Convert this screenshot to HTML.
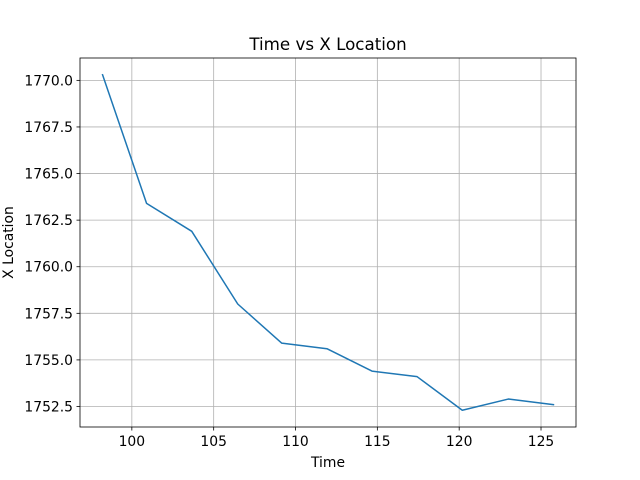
<!DOCTYPE html>
<html><head><meta charset="utf-8"><style>body{margin:0;background:#fff}svg{display:block;font-family:"DejaVu Sans","Liberation Sans",sans-serif}</style></head>
<body>
<svg id="chart" width="640" height="480"></svg>
<script>
const times = [98.21, 100.9, 103.66, 106.47, 109.16, 111.92, 114.67, 117.43, 120.19, 123.0, 125.76];
const xLocations = [1770.3, 1763.4, 1761.9, 1758.0, 1755.9, 1755.6, 1754.4, 1754.1, 1752.3, 1752.9, 1752.6];
const xTicks = [100, 105, 110, 115, 120, 125];
const yTicks = [1752.5, 1755.0, 1757.5, 1760.0, 1762.5, 1765.0, 1767.5, 1770.0];

const L=80,R=576,T=58,B=427;
const xmin=Math.min(...times),xmax=Math.max(...times),xpad=(xmax-xmin)*0.05;
const ymin=Math.min(...xLocations),ymax=Math.max(...xLocations),ypad=(ymax-ymin)*0.05;
const sx=v=>L+(v-(xmin-xpad))/((xmax+xpad)-(xmin-xpad))*(R-L);
const sy=v=>B-(v-(ymin-ypad))/((ymax+ypad)-(ymin-ypad))*(B-T);
const svg=document.getElementById('chart');const NS='http://www.w3.org/2000/svg';
function el(t,a,txt){const e=document.createElementNS(NS,t);for(const k in a)e.setAttribute(k,a[k]);if(txt!=null)e.textContent=txt;svg.appendChild(e);return e;}
xTicks.forEach(v=>{const x=sx(v);
 const g=el('line',{x1:x,x2:x,y1:T,y2:B,stroke:'#b0b0b0','stroke-width':0.8});
 
 
 el('line',{x1:x,x2:x,y1:B,y2:B+3.5,stroke:'#000','stroke-width':0.8});
 const t=el('text',{x:x,y:B+19,'font-size':13.9,'text-anchor':'middle'},String(v));
 
 
});
yTicks.forEach(v=>{const y=sy(v);
 const g=el('line',{x1:L,x2:R,y1:y,y2:y,stroke:'#b0b0b0','stroke-width':0.8});
 
 
 el('line',{x1:L-3.5,x2:L,y1:y,y2:y,stroke:'#000','stroke-width':0.8});
 const t=el('text',{x:L-7,y:y+5,'font-size':13.9,'text-anchor':'end'},v.toFixed(1));
 
 
});
const pts=times.map((t,i)=>sx(t).toFixed(2)+','+sy(xLocations[i]).toFixed(2)).join(' ');
const line=el('polyline',{points:pts,fill:'none',stroke:'#1f77b4','stroke-width':1.5,'stroke-linejoin':'round','stroke-linecap':'square'});


const fr=el('rect',{x:L,y:T,width:R-L,height:B-T,fill:'none',stroke:'#000','stroke-width':0.8});


const ti=el('text',{x:(L+R)/2,y:50,'font-size':16.7,'text-anchor':'middle'},'Time vs X Location');


const xl=el('text',{x:(L+R)/2,y:467,'font-size':13.9,'text-anchor':'middle'},'Time');


const yl=el('text',{x:0,y:0,'font-size':13.9,'text-anchor':'middle',transform:'translate(13,'+((T+B)/2)+') rotate(-90)'},'X Location');


</script>
</body></html>
